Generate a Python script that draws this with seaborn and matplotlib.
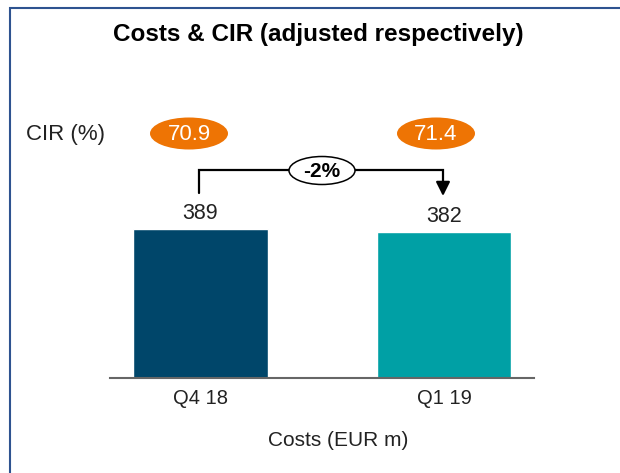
import matplotlib
matplotlib.use("Agg")
import matplotlib.pyplot as plt
from matplotlib.patches import Ellipse
import seaborn as sns
import pandas as pd

# ---- data ----
quarters = ["Q4 18", "Q1 19"]
costs = [389, 382]
cir = [70.9, 71.4]
change_label = "-2%"
title = "Costs & CIR (adjusted respectively)"
cir_label = "CIR (%)"
x_label = "Costs (EUR m)"
bar_colors = ["#00466A", "#00A0A5"]
oval_color = "#EE7404"

sns.set_theme(style="white")
plt.rcParams["font.family"] = ["Liberation Sans", "DejaVu Sans"]

W, H = 620, 473
fig = plt.figure(figsize=(W / 100, H / 100), dpi=100)

# main bar axes positioned in pixel terms
ax_l, ax_r, ax_b, ax_t = 110, 534, 378, 60
ax = fig.add_axes([ax_l / W, 1 - ax_b / H, (ax_r - ax_l) / W, (ax_b - ax_t) / H])
df = pd.DataFrame({"q": quarters, "c": costs})
sns.barplot(data=df, x="q", y="c", hue="q", palette=bar_colors, legend=False,
            width=0.554, ax=ax, saturation=1)
ax.set_xlim(-0.3717, 1.3696)
ax.set_ylim(0, (ax_b - ax_t) / (148.7 / 389))
ax.set_yticks([])
ax.set_ylabel("")
ax.set_xlabel("")
for s in ["left", "right", "top"]:
    ax.spines[s].set_visible(False)
ax.spines["bottom"].set_color("#666666")
ax.spines["bottom"].set_linewidth(1.5)
ax.tick_params(axis="x", length=0, pad=8, labelsize=14.5, labelcolor="#222222")
ax.patch.set_alpha(0)

# value labels above bars
for i, v in enumerate(costs):
    ax.annotate(f"{v}", xy=(i, v), xytext=(0, 11.5), textcoords="offset points",
                ha="center", va="center", fontsize=15.5, color="#222222")

# overlay axes in pixel coordinates for decorations
ov = fig.add_axes([0, 0, 1, 1], zorder=-1)
ov.set_xlim(0, W)
ov.set_ylim(H, 0)
ov.axis("off")
ov.patch.set_alpha(0)

# frame lines (left and top)
ov.plot([10, 10, W], [H, 8.5, 8.5], color="#2E5390", lw=1.5, solid_joinstyle="miter")

ov.text(318, 34, title, ha="center", va="center", fontsize=17.5, fontweight="bold",
        color="black")
ov.text(65, 134, cir_label, ha="center", va="center", fontsize=16, color="#222222")

# CIR ovals
oval_x = [189, 436]
for xc, val in zip(oval_x, cir):
    ov.add_patch(Ellipse((xc, 133.5), 78, 32, facecolor=oval_color, edgecolor="none"))
    ov.text(xc, 134, f"{val}", ha="center", va="center", fontsize=16, color="white")

# bracket with arrow
ov.plot([199, 199, 443, 443], [193, 170.5, 170.5, 186], color="black", lw=1.6,
        solid_joinstyle="miter")
ov.annotate("", xy=(443, 196), xytext=(443, 183),
            arrowprops=dict(arrowstyle="-|>,head_length=0.7,head_width=0.35",
                            color="black", lw=1.6, shrinkA=0, shrinkB=0))
ov.add_patch(Ellipse((322, 170.5), 66, 28, facecolor="white", edgecolor="black", lw=1.1,
                     zorder=3))
ov.text(322, 171, change_label, ha="center", va="center", fontsize=15,
        fontweight="bold", color="black", zorder=4)

ov.text(338, 440, x_label, ha="center", va="center", fontsize=15, color="#222222")

fig.savefig("out.png", dpi=100)
